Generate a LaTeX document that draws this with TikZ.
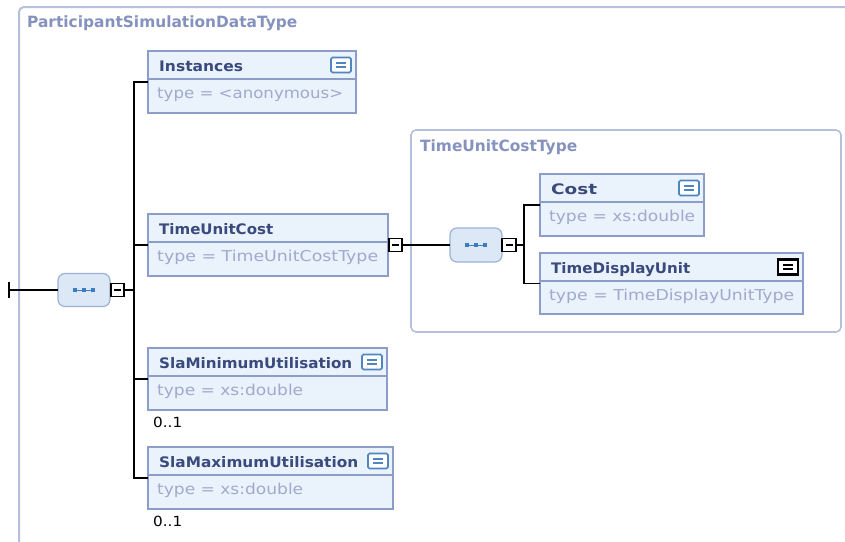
\documentclass[tikz,border=0pt]{standalone}
\usepackage{fontspec}
\setmainfont{DejaVu Sans}
\usepackage{graphicx}
\usetikzlibrary{calc}

\definecolor{framecol}{HTML}{B4C0DC}
\definecolor{boxline}{HTML}{8C9DCA}
\definecolor{boxfill}{HTML}{EAF2FB}
\definecolor{nametxt}{HTML}{3A4A7C}
\definecolor{typetxt}{HTML}{A0AACD}
\definecolor{titletxt}{HTML}{8592BD}
\definecolor{seqfill}{HTML}{DCE8F6}
\definecolor{seqline}{HTML}{9CB2D4}
\definecolor{dotcol}{HTML}{3D7CC0}
\definecolor{iconcol}{HTML}{4F86C0}

\tikzset{
  elembox/.style={draw=boxline, fill=boxfill, line width=2.8pt, inner sep=0pt, outer sep=0pt},
  divline/.style={draw=boxline, line width=1.3pt},
  nametext/.style={anchor=base west, inner sep=0pt, text=nametxt, font=\bfseries\fontsize{14.5}{16}\selectfont},
  typetext/.style={anchor=base west, inner sep=0pt, text=typetxt, font=\fontsize{15}{17}\selectfont},
  titletext/.style={anchor=base west, inner sep=0pt, text=titletxt, font=\bfseries\fontsize{15.5}{17}\selectfont},
  occurs/.style={anchor=base west, inner sep=0pt, text=black, font=\fontsize{14}{16}\selectfont},
  typeframe/.style={draw=framecol, line width=1.6pt, rounded corners=5pt, inner sep=0pt},
  seqbox/.style={draw=seqline, fill=seqfill, line width=1.2pt, rounded corners=7pt,
    minimum width=52pt, minimum height=33pt, inner sep=0pt, outer sep=0pt},
  colbox/.style={draw=black, fill=white, line width=1.5pt, minimum size=13pt, inner sep=0pt, outer sep=0pt},
  conn/.style={draw=black, line width=1.6pt},
  infoicon/.style={draw=iconcol, fill=white, line width=1.6pt, rounded corners=1.5pt,
    minimum width=20pt, minimum height=15pt, inner sep=0pt},
  infoiconbold/.style={draw=black, fill=white, line width=2.8pt,
    minimum width=20pt, minimum height=15pt, inner sep=0pt},
}

% element box: name, left, top, right, bottom, title, title width, type, type width
\newcommand\elembox[9]{%
  \node[elembox, minimum width={#4-#2}, minimum height={#5-#3}] (#1) at ({(#2+#4)/2},{(#3+#5)/2}) {};
  \draw[divline] ($(#1.north west)+(0,28)$) -- ($(#1.north east)+(0,28)$);
  \node[nametext] at ($(#1.north west)+(11,20)$) {\resizebox{#7pt}{\height}{#6}};
  \node[typetext] at ($(#1.north west)+(9,47.5)$) {\resizebox{#9pt}{\height}{#8}};
}

% annotation icon in the top right corner of a box
\newcommand\annot[3]{%
  \node[#3] (#1-icon) at ($(#1.north east)+(-15,14)$) {};
  \draw[draw=#2, line width=1.4pt] ($(#1-icon.center)+(-5,-2)$) -- ($(#1-icon.center)+(5,-2)$);
  \draw[draw=#2, line width=1.4pt] ($(#1-icon.center)+(-5,2)$) -- ($(#1-icon.center)+(5,2)$);
}

% sequence compositor symbol
\newcommand\seqdots[1]{%
  \draw[dotcol, line width=0.8pt] ($(#1.center)+(-9,0)$) -- ($(#1.center)+(9,0)$);
  \foreach \dx in {-9,0,9} {
    \fill[dotcol] ($(#1.center)+(\dx,0)+(-2.2,-2.2)$) rectangle ($(#1.center)+(\dx,0)+(2.2,2.2)$);
  }
}

% collapse (minus) box
\newcommand\minusbox[1]{%
  \draw[black, line width=1.4pt] ($(#1.center)+(-3.5,0)$) -- ($(#1.center)+(3.5,0)$);
}

\begin{document}
\begin{tikzpicture}[x=1pt, y=-1pt]
  \useasboundingbox (0,0) rectangle (845,541);
  \clip (0,0) rectangle (845,541);

  % outer complex type frame
  \draw[framecol, line width=2pt, rounded corners=5pt] (19,560) -- (19,7) -- (870,7);
  \node[titletext] (outertitle) at (27,27) {\resizebox{270pt}{\height}{ParticipantSimulationDataType}};

  % inner complex type frame
  \node[typeframe, minimum width=430pt, minimum height=202pt] (tuct) at (626,231) {};
  \node[titletext] (innertitle) at (420,151) {\resizebox{157pt}{\height}{TimeUnitCostType}};

  % root sequence
  \coordinate (start) at (9,290);
  \node[seqbox] (seqA) at (84,290) {};
  \seqdots{seqA}
  \node[colbox, anchor=west] (colA) at ($(seqA.east)+(1,0)$) {};
  \minusbox{colA}

  % child elements
  \elembox{inst}{148}{51}{356}{113}{Instances}{84}{type = <anonymous>}{186}
  \annot{inst}{iconcol}{infoicon}
  \elembox{tuc}{148}{214}{388}{276}{TimeUnitCost}{114}{type = TimeUnitCostType}{221}
  \elembox{slamin}{148}{348}{387}{410}{SlaMinimumUtilisation}{193}{type = xs:double}{146}
  \annot{slamin}{iconcol}{infoicon}
  \elembox{slamax}{148}{447}{393}{509}{SlaMaximumUtilisation}{199}{type = xs:double}{146}
  \annot{slamax}{iconcol}{infoicon}
  \node[occurs] (occmin) at (153,427) {\resizebox{29pt}{\height}{0..1}};
  \node[occurs] (occmax) at (153,526) {\resizebox{29pt}{\height}{0..1}};

  \node[colbox, anchor=west] (colT) at ($(tuc.east)+(1,0)$) {};
  \minusbox{colT}

  % nested sequence
  \node[seqbox, minimum height=34pt] (seqB) at (476,245) {};
  \seqdots{seqB}
  \node[colbox, minimum width=14pt, anchor=west] (colB) at ($(seqB.east)+(0,0)$) {};
  \minusbox{colB}

  \elembox{cost}{540}{174}{704}{236}{Cost}{46}{type = xs:double}{146}
  \annot{cost}{iconcol}{infoicon}
  \elembox{tdu}{540}{253}{803}{314}{TimeDisplayUnit}{139}{type = TimeDisplayUnitType}{245}
  \annot{tdu}{black}{infoiconbold}

  % connectors
  \draw[conn] (start) -- (seqA.west);
  \draw[conn] ($(start)+(0,-8)$) -- ($(start)+(0,8)$);
  \draw[conn] (colA.east) -- ++(10,0) coordinate (trA);
  \draw[conn] (trA) |- (inst.west);
  \draw[conn] (trA) |- (tuc.west);
  \draw[conn] (trA) |- (slamin.west);
  \draw[conn] (trA) |- (slamax.west);

  \draw[conn] (colT.east) -- (seqB.west);
  \draw[conn] (colB.east) -- ++(8,0) coordinate (trB);
  \draw[conn] (trB) |- (cost.west);
  \draw[conn] (trB) |- (tdu.west);
\end{tikzpicture}
\end{document}
